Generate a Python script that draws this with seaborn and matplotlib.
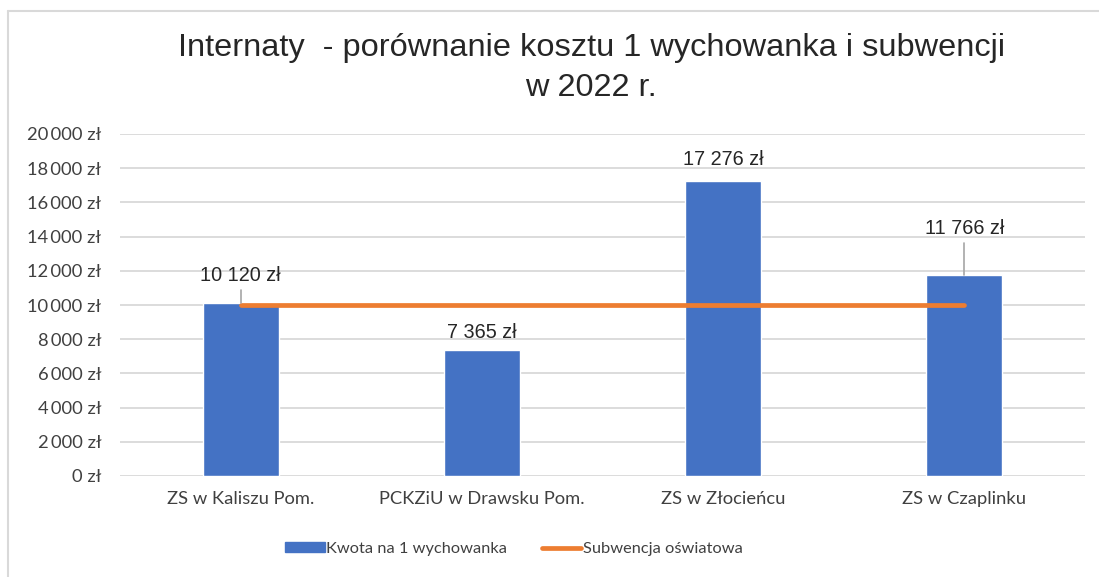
import matplotlib
matplotlib.use('Agg')
import matplotlib.pyplot as plt
import seaborn as sns
import pandas as pd
from matplotlib.patches import Rectangle
from matplotlib.lines import Line2D

schools = ['ZS w Kaliszu Pom.', 'PCKZiU w Drawsku Pom.', 'ZS w Złocieńcu', 'ZS w Czaplinku']
cost_per_pupil = [10120, 7365, 17276, 11766]
subsidy = [10000, 10000, 10000, 10000]
y_ticks = [0, 2000, 4000, 6000, 8000, 10000, 12000, 14000, 16000, 18000, 20000]
# where the data labels sit (centre) and whether they got a leader line
label_y = [11750, 8370, 18480, 14500]
leader = [True, False, False, True]


def pln(v):
    return f'{v:,.0f}'.replace(',', ' ') + ' zł'


def pln_tick(v):
    # Excel uses a narrow space for the thousands separator on the axis
    return f'{v:,.0f}'.replace(',', '\u2009') + ' zł'


df = pd.DataFrame({'szkola': schools, 'kwota': cost_per_pupil, 'subwencja': subsidy})

sns.set_theme(style='white')
plt.rcParams['font.family'] = ['Lato', 'DejaVu Sans']

fig = plt.figure(figsize=(10.99, 5.77), dpi=100)
ax = fig.add_axes([120 / 1099, 1 - 476 / 577, (1085 - 120) / 1099, (476 - 134) / 577])

sns.barplot(data=df, x='szkola', y='kwota', color='#4472C4', width=0.315, ax=ax,
            saturation=1, zorder=3)
sns.lineplot(x=range(len(schools)), y=subsidy, color='#ED7D31', lw=3.4, ax=ax, zorder=4,
             solid_capstyle='round')

ax.set_ylim(0, 20000)
ax.set_xlim(-0.5, len(schools) - 0.5)
ax.set_yticks(y_ticks)
ax.set_yticklabels([pln_tick(t) for t in y_ticks], fontsize=13.2, color='#404040')
ax.set_xticks(range(len(schools)))
ax.set_xticklabels(schools, fontsize=13.2, color='#404040')
ax.tick_params(axis='y', length=0, pad=13.5)
ax.tick_params(axis='x', length=0, pad=11)
ax.grid(axis='y', color='#d9d9d9', lw=1.3, zorder=0)
ax.set_axisbelow(True)
for s in ax.spines.values():
    s.set_visible(False)
ax.set_xlabel('')
ax.set_ylabel('')

for i, (v, ty, ld) in enumerate(zip(cost_per_pupil, label_y, leader)):
    ax.text(i, ty, pln(v), ha='center', va='center', fontsize=14.3,
            family='Liberation Sans', color='#262626')
    if ld:
        ax.plot([i, i], [v, ty - 850], color='#a6a6a6', lw=1.2, zorder=5)

fig.suptitle('Internaty  - porównanie kosztu 1 wychowanka i subwencji\nw 2022 r.',
             x=0.538, y=0.942, fontsize=23.4, family='Liberation Sans', color='#262626',
             linespacing=1.4)

handles = [Rectangle((0, 0), 1, 1, color='#4472C4'),
           Line2D([], [], color='#ED7D31', lw=3.4, solid_capstyle='round')]
fig.legend(handles, ['Kwota na 1 wychowanka', 'Subwencja oświatowa'], loc='center',
           bbox_to_anchor=(514 / 1099, 1 - 549 / 577), ncol=2, frameon=False, fontsize=11.8,
           handlelength=2.4, handleheight=0.6, handletextpad=0.1, columnspacing=2.1,
           labelcolor='#404040')

# light frame of the chart area (only top and left edges are inside the picture)
fig.add_artist(Line2D([8 / 1099, 1], [1 - 11 / 577] * 2, transform=fig.transFigure,
                      color='#d9d9d9', lw=1.5))
fig.add_artist(Line2D([8 / 1099] * 2, [0, 1 - 11 / 577], transform=fig.transFigure,
                      color='#d9d9d9', lw=1.5))

fig.savefig('out.png', dpi=100)
